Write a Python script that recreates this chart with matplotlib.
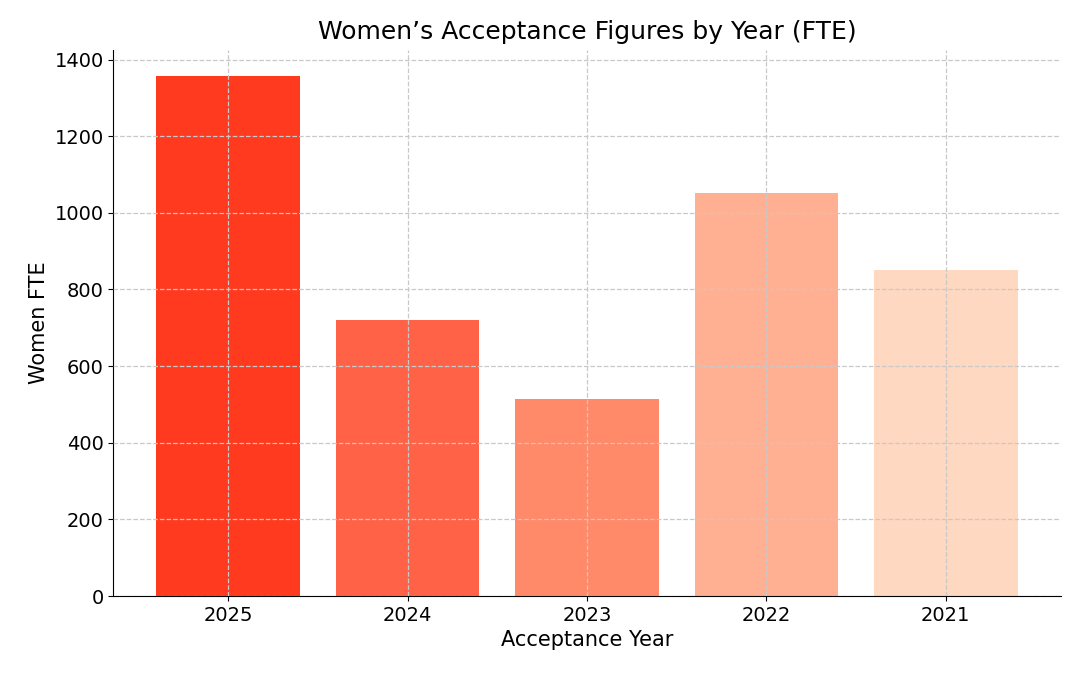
import matplotlib
matplotlib.use("Agg")
import matplotlib.pyplot as plt

years = ["2025", "2024", "2023", "2022", "2021"]
women_fte = [1357, 720, 515, 1052, 850]
colors = ["#ff3a1f", "#ff6246", "#ff8a69", "#ffb092", "#fed8c0"]

fig, ax = plt.subplots(figsize=(10.8, 6.75), dpi=100)
ax.bar(years, women_fte, color=colors, width=0.8, zorder=1)
ax.set_ylim(0, 1425)
ax.set_title("Women’s Acceptance Figures by Year (FTE)", fontsize=18, pad=8)
ax.set_xlabel("Acceptance Year", fontsize=15)
ax.set_ylabel("Women FTE", fontsize=15)
ax.tick_params(labelsize=14)
ax.grid(True, linestyle="--", color="#c8c8c8", lw=0.9, zorder=2)
ax.set_axisbelow(False)
ax.spines["top"].set_visible(False)
ax.spines["right"].set_visible(False)
fig.subplots_adjust(left=0.105, right=0.982, top=0.926, bottom=0.117)
fig.savefig("out.png")
